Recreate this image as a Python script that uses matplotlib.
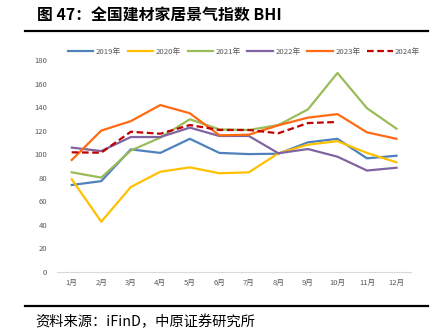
import matplotlib
matplotlib.use('Agg')
import matplotlib.pyplot as plt
from matplotlib.lines import Line2D

plt.rcParams['font.family'] = ['Noto Sans CJK SC', 'DejaVu Sans']

months = ['1月', '2月', '3月', '4月', '5月', '6月', '7月', '8月', '9月', '10月', '11月', '12月']
y2019 = [73.7, 77, 104, 101, 113, 101, 100, 100.3, 110, 113, 96.4, 98.6]
y2020 = [78.6, 42.5, 72, 85, 88.7, 83.7, 84.5, 100.7, 108, 111, 101, 93]
y2021 = [84.5, 80, 103, 114, 129.6, 121, 120.5, 124.7, 138, 169, 139, 121.6]
y2022 = [105.5, 102.6, 114.5, 114.5, 122.5, 115.4, 115.4, 100.7, 104.3, 97.8, 86, 88.4]
y2023 = [95, 120, 128, 141.7, 134.7, 116, 116.5, 124.5, 131, 134, 118.5, 113]
y2024 = [101.5, 101.2, 119, 117.3, 124.7, 120.5, 120.5, 117.7, 126.4, 127.3]

series = [
    ('2019年', y2019, '#4F81BD', '-'),
    ('2020年', y2020, '#FFC000', '-'),
    ('2021年', y2021, '#9BBB59', '-'),
    ('2022年', y2022, '#8064A2', '-'),
    ('2023年', y2023, '#FF6A13', '-'),
    ('2024年', y2024, '#C00000', '--'),
]

fig = plt.figure(figsize=(4.39, 3.36), dpi=100)
ax = fig.add_axes([0.1298, 0.1914, 0.807, 0.63])

for name, vals, col, ls in series:
    ax.plot(range(len(vals)), vals, color=col, linestyle=ls, linewidth=1.6,
            label=name, dashes=(3, 1.6) if ls == '--' else (None, None))

ax.set_xlim(-0.5, 11.5)
ax.set_ylim(0, 180)
ax.set_yticks(range(0, 181, 20))
ax.set_xticks(range(12))
ax.set_xticklabels(months)
for s in ['top', 'right', 'left']:
    ax.spines[s].set_visible(False)
ax.spines['bottom'].set_color('#D9D9D9')
ax.spines['bottom'].set_linewidth(0.8)
ax.tick_params(axis='both', length=0, labelsize=5.5, labelcolor='#595959')
ax.tick_params(axis='x', pad=5.5)
ax.tick_params(axis='y', pad=7)

leg = ax.legend(loc='center', bbox_to_anchor=(244 / 439, 1 - 52 / 336), bbox_transform=fig.transFigure,
                ncol=6, frameon=False, fontsize=5.6, handlelength=3.3, handletextpad=0.3,
                columnspacing=0.85, borderpad=0)
for t in leg.get_texts():
    t.set_color('#595959')

fig.text(37 / 439, 1 - 16 / 336, '图 47：全国建材家居景气指数 BHI', fontsize=11.4, fontweight='bold',
         ha='left', va='center', color='black')
fig.add_artist(Line2D([25 / 439, 428 / 439], [1 - 31 / 336, 1 - 31 / 336], color='black', linewidth=1.6,
                      transform=fig.transFigure))
fig.add_artist(Line2D([25 / 439, 428 / 439], [1 - 306 / 336, 1 - 306 / 336], color='black', linewidth=1.6,
                      transform=fig.transFigure))
fig.text(35 / 439, 1 - 322 / 336, '资料来源：iFinD，中原证券研究所', fontsize=10.3, ha='left', va='center',
         color='black')

fig.savefig('out.png', dpi=100)
